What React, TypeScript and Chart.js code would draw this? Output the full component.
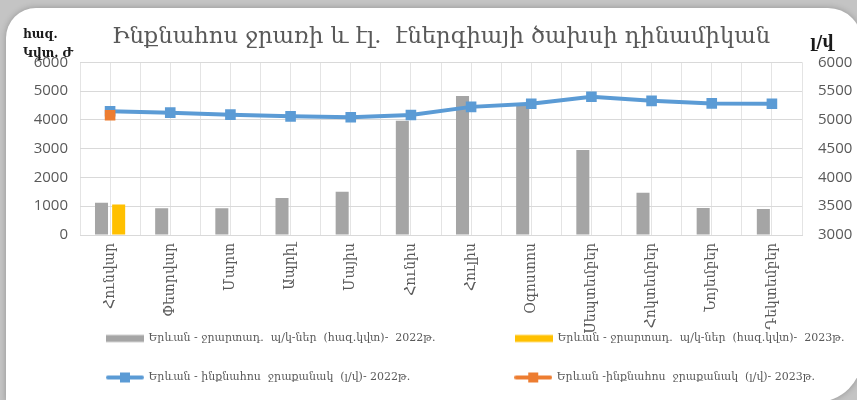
import React, { useEffect, useRef } from "react";
import { Chart, registerables } from "chart.js";

Chart.register(...registerables);

const months = [
  "Հունվար", "Փետրվար", "Մարտ", "Ապրիլ", "Մայիս", "Հունիս",
  "Հուլիս", "Օգոստոս", "Սեպտեմբեր", "Հոկտեմբեր", "Նոյեմբեր", "Դեկտեմբեր",
];
const power2022 = [1120, 925, 930, 1285, 1505, 3965, 4830, 4580, 2950, 1470, 935, 900];
const power2023 = [1060, null, null, null, null, null, null, null, null, null, null, null];
const flow2022 = [5150, 5125, 5090, 5060, 5045, 5085, 5225, 5280, 5400, 5330, 5285, 5278];
const flow2023 = [5080, null, null, null, null, null, null, null, null, null, null, null];

const leftTicks = [0, 1000, 2000, 3000, 4000, 5000, 6000];
const rightTicks = [3000, 3500, 4000, 4500, 5000, 5500, 6000];

const titleText = "Ինքնահոս ջրառի և էլ.  էներգիայի ծախսի դինամիկան";
const seriesLabels = [
  "Երևան - ջրարտադ.  պ/կ-ներ  (հազ.կվտ)-  2022թ.",
  "Երևան - ջրարտադ.  պ/կ-ներ  (հազ.կվտ)-  2023թ.",
  "Երևան - ինքնահոս  ջրաքանակ  (լ/վ)- 2022թ.",
  "Երևան -ինքնահոս  ջրաքանակ  (լ/վ)- 2023թ.",
];

const GREY = "#A5A5A5";
const YELLOW = "#FFC000";
const BLUE = "#5B9BD5";
const ORANGE = "#ED7D31";
const TEXT = "#595959";
const GRID = "#D9D9D9";
const SERIF = '"DejaVu Serif", serif';
const SANS = '"Open Sans", sans-serif';

function barIcon(color: string) {
  const c = document.createElement("canvas");
  c.width = 38; c.height = 12;
  const g = c.getContext("2d")!;
  g.fillStyle = color;
  g.fillRect(0, 2.5, 38, 7);
  return c;
}
function lineIcon(color: string) {
  const c = document.createElement("canvas");
  c.width = 38; c.height = 12;
  const g = c.getContext("2d")!;
  g.strokeStyle = color;
  g.lineWidth = 4;
  g.lineCap = "round";
  g.beginPath(); g.moveTo(2, 6); g.lineTo(36, 6); g.stroke();
  g.fillStyle = color;
  g.fillRect(14, 1, 10, 10);
  return c;
}

// lets the tick labels use the room outside their (narrow) scale boxes, as in the original
const labelRoom = {
  id: "labelRoom",
  afterLayout(chart: any) {
    chart.scales.y.left = 0;
    chart.scales.x.bottom = chart.height;
  },
};

export default function App() {
  const ref = useRef<HTMLCanvasElement | null>(null);
  useEffect(() => {
    if (!ref.current) return;
    const icons = [barIcon(GREY), barIcon(YELLOW), lineIcon(BLUE), lineIcon(ORANGE)];
    const legendFont = `11px ${SERIF}`;
    const chart = new Chart(ref.current, {
      data: {
        labels: months,
        datasets: [
          { type: "bar", label: seriesLabels[0], data: power2022, backgroundColor: GREY, yAxisID: "y", order: 2, barPercentage: 0.76, categoryPercentage: 0.57 },
          { type: "bar", label: seriesLabels[1], data: power2023, backgroundColor: YELLOW, yAxisID: "y", order: 2, barPercentage: 0.76, categoryPercentage: 0.57 },
          { type: "line", label: seriesLabels[2], data: flow2022, borderColor: BLUE, backgroundColor: BLUE, borderWidth: 4, pointStyle: "rect", pointRadius: 7.5, pointBorderWidth: 0, pointBackgroundColor: BLUE, yAxisID: "y1", order: 1, tension: 0 },
          { type: "line", label: seriesLabels[3], data: flow2023, borderColor: ORANGE, backgroundColor: ORANGE, borderWidth: 4, pointStyle: "rect", pointRadius: 7.5, pointBorderWidth: 0, pointBackgroundColor: ORANGE, yAxisID: "y1", order: 0 },
        ],
      } as any,
      options: {
        responsive: false,
        maintainAspectRatio: false,
        animation: false,
        layout: { padding: { left: 79, right: 0, top: 0, bottom: 7 } },
        scales: {
          x: {
            type: "category",
            offset: true,
            grid: { color: "#E4E4E4", offset: true, drawTicks: false },
            border: { color: GRID },
            ticks: { color: TEXT, font: { family: SERIF, size: 14 }, minRotation: 90, maxRotation: 90, autoSkip: false, padding: 8 },
            afterFit: (s: any) => { s.height = 70; },
          },
          x2: {
            type: "category",
            position: "bottom",
            offset: true,
            grid: { color: "#E4E4E4", offset: false, drawTicks: false },
            border: { display: false },
            ticks: { display: false },
            afterFit: (s: any) => { s.height = 0; },
          },
          y: {
            position: "left",
            min: 0, max: 6000,
            afterBuildTicks: (s: any) => { s.ticks = leftTicks.map((v) => ({ value: v })); },
            grid: { color: GRID, drawTicks: false },
            border: { display: false },
            ticks: { color: TEXT, font: { family: SANS, size: 15 }, padding: 12, callback: (v: any) => String(v) },
            afterFit: (s: any) => { s.width = 1; },
          },
          y1: {
            position: "right",
            min: 3000, max: 6000,
            afterBuildTicks: (s: any) => { s.ticks = rightTicks.map((v) => ({ value: v })); },
            grid: { display: false, drawTicks: false },
            border: { display: false },
            ticks: { color: TEXT, font: { family: SANS, size: 15 }, padding: 16, callback: (v: any) => String(v) },
            afterFit: (s: any) => { s.width = 118; },
          },
        },
        plugins: {
          title: {
            display: true,
            text: titleText,
            fullSize: false,
            color: TEXT,
            font: { family: SERIF, size: 22.7, weight: "normal" },
            padding: { top: 23, bottom: 12 },
          },
          legend: {
            display: true,
            position: "bottom",
            align: "start",
            fullSize: true,
            labels: {
              usePointStyle: true,
              pointStyleWidth: 36,
              padding: 28,
              color: TEXT,
              font: { family: SERIF, size: 11 },
              sort: (a: any, b: any) => a.datasetIndex - b.datasetIndex,
              generateLabels: (ch: any) => {
                const items = Chart.defaults.plugins.legend.labels.generateLabels(ch);
                const g = ch.ctx as CanvasRenderingContext2D;
                g.save();
                g.font = legendFont;
                const out = items.map((it: any) => {
                  let text = it.text as string;
                  if (it.datasetIndex === 0 || it.datasetIndex === 2) {
                    while (g.measureText(text).width < 338) text += "\u00A0";
                  }
                  return { ...it, text, pointStyle: icons[it.datasetIndex], fontColor: TEXT };
                });
                g.restore();
                return out;
              },
            },
          },
          tooltip: { enabled: false },
        },
      } as any,
      plugins: [labelRoom],
    });
    return () => chart.destroy();
  }, []);

  return (
    <div style={{ position: "fixed", left: 0, top: 0, width: 857, height: 400, overflow: "hidden", background: "#C4C4C4" }}>
      <div style={{ position: "absolute", left: 6, top: 8, width: 856, height: 394, borderRadius: "30px 34px 45px 0px", background: "#FFFFFF", boxShadow: "0 0 6px rgba(0,0,0,0.25)" }} />
      <canvas ref={ref} width={920} height={400} style={{ position: "absolute", left: 0, top: 0, width: 920, height: 400 }} />
      <div style={{ position: "absolute", left: 23, top: 25, font: `bold 12px ${SERIF}`, color: "#1a1a1a", lineHeight: "19px" }}>
        <div>հազ.</div>
        <div>Կվտ. Ժ</div>
      </div>
      <div style={{ position: "absolute", left: 810, top: 32, font: `bold 16px ${SERIF}`, color: "#1a1a1a" }}>լ/վ</div>
    </div>
  );
}
